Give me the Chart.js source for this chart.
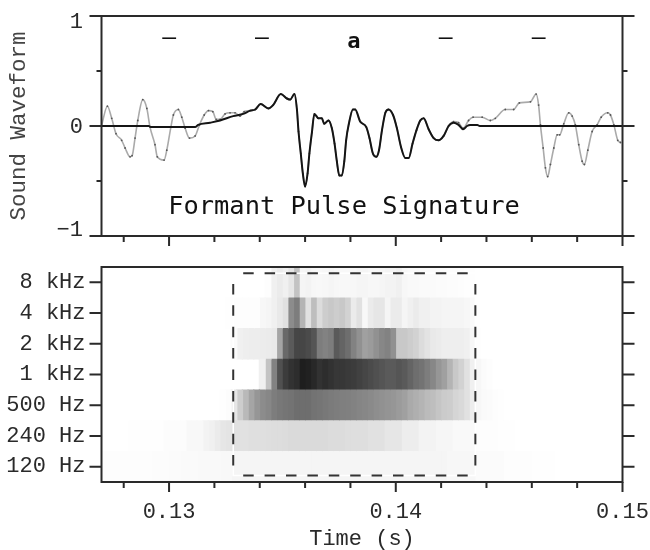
<!DOCTYPE html>
<html><head><meta charset="utf-8">
<script src="https://cdn.jsdelivr.net/npm/chart.js@4"></script>
<style>
html,body{margin:0;padding:0;background:#fff;width:650px;height:550px;overflow:hidden}
canvas{position:absolute;left:0}
#a{top:0}#b{top:250px}
</style></head><body>
<canvas id="a" width="650" height="250"></canvas>
<canvas id="b" width="650" height="300"></canvas>
<script>
const waveTimes=[127.02,127.28,127.47,127.66,127.91,128.06,128.28,128.37,128.50,128.62,128.84,129.02,129.16,129.38,129.48,129.78,129.90,130.08,130.19,130.41,130.56,130.71,130.90,131.15,131.34,131.55,131.74,131.93,132.08,132.25,132.47,132.69,132.91,133.13,133.31,133.58,133.80,134.04,134.38,134.59,134.93,135.20,135.34,135.53,135.64,135.71,135.81,135.90,136.00,136.11,136.19,136.30,136.41,136.59,136.74,136.84,137.03,137.18,137.30,137.40,137.51,137.62,137.73,137.81,137.93,138.11,138.21,138.43,138.70,138.84,138.99,139.14,139.26,139.39,139.54,139.68,139.88,140.05,140.23,140.42,140.57,140.74,140.91,141.08,141.23,141.45,141.67,141.89,142.11,142.33,142.55,142.77,142.97,143.21,143.41,143.81,144.17,144.39,144.83,145.20,145.45,145.94,146.19,146.30,146.38,146.50,146.60,146.70,146.82,146.97,147.12,147.23,147.41,147.63,147.78,147.92,148.07,148.22,148.32,148.47,148.66,148.88,149.06,149.35,149.47,149.62,149.79,149.91];
const waveValues=[0,0.18,0.07,-0.07,-0.13,-0.20,-0.28,-0.27,-0.11,0.05,0.24,0.16,-0.01,-0.17,-0.28,-0.31,-0.22,-0.01,0.10,0.15,0.08,-0.02,-0.11,-0.09,0.01,0.10,0.14,0.13,0.06,0.06,0.11,0.12,0.12,0.09,0.13,0.14,0.15,0.20,0.16,0.19,0.29,0.25,0.24,0.29,0.15,-0.05,-0.25,-0.43,-0.55,-0.43,-0.25,-0.06,0.11,0.07,0.07,0.02,0.05,-0.02,-0.16,-0.32,-0.45,-0.45,-0.32,-0.13,0.02,0.15,0.15,0.04,-0.01,-0.11,-0.25,-0.28,-0.22,-0.04,0.12,0.15,0.10,-0.02,-0.19,-0.29,-0.29,-0.16,-0.04,0.05,0.07,-0.03,-0.11,-0.13,-0.09,0,0.04,0.03,-0.02,0.05,0.08,0.08,0.05,0.07,0.15,0.15,0.21,0.22,0.29,0.19,0.01,-0.20,-0.38,-0.46,-0.35,-0.20,-0.08,-0.08,0.02,0.12,0.09,0.01,-0.17,-0.32,-0.35,-0.22,-0.05,0.01,0.08,0.12,0.10,0.01,-0.13,-0.15];
const pulseLeadTimes=[127.02,129.10,129.20,131.15,131.28,131.81,132.25,132.83,133.27];
const pulseLeadValues=[0,0,-0.01,-0.01,0.01,0.03,0.05,0.09,0.11];
const pulseTailTimes=[142.55,142.77,142.97,143.14,143.28,143.60,143.70,150];
const pulseTailValues=[0.03,0.01,-0.03,0,0.01,0.01,0,0];
const sharedFrom=35, sharedTo=90;

const rowLabels=['8 kHz','4 kHz','2 kHz','1 kHz','500 Hz','240 Hz','120 Hz'];
const binStart=127.0, binWidth=0.25;
const dark8k=[0,0,0,0,0,0,0,0,0,0,0,0,0,0,0,0,0,0,0,0,0,0,0,0,0,0,0,0,0,2,15,20,15,25,60,10,12,8,7,8,10,8,7,7,8,10,10,8,8,10,12,12,15,8,6,6,5,5,5,4,4,3,3,2,1,1,0,0,0,0,0,0,0,0,0,0,0,0,0,0,0,0,0,0,0,0,0,0,0,0,0,0];
const dark4k=[0,0,0,0,0,0,0,0,0,0,0,0,0,0,0,0,0,0,0,0,0,0,1,2,2,2,2,2,8,10,15,22,30,115,130,75,30,65,35,50,55,50,55,45,20,30,7,20,25,25,10,20,20,10,15,20,15,15,12,12,10,10,10,10,8,5,0,0,0,0,0,0,0,0,0,0,0,0,0,0,0,0,0,0,0,0,0,0,0,0,0,0];
const dark2k=[0,0,0,0,0,0,0,0,0,0,0,0,0,0,0,0,0,0,0,0,0,0,0,5,15,17,18,18,19,20,22,90,150,165,185,185,180,170,130,125,130,165,155,145,125,110,95,100,110,120,125,110,55,55,50,45,35,28,22,20,17,17,17,17,15,8,1,0,0,0,0,0,0,0,0,0,0,0,0,0,0,0,0,0,0,0,0,0,0,0,0,0];
const dark1k=[0,0,0,0,0,0,0,0,0,0,0,0,0,0,0,0,0,0,0,0,0,0,0,0,0,0,0,0,15,60,125,175,195,205,210,225,222,215,205,210,205,200,200,197,195,190,185,180,175,170,165,165,170,165,155,145,140,130,120,105,95,75,55,45,30,15,8,4,2,0,0,0,0,0,0,0,0,0,0,0,0,0,0,0,0,0,0,0,0,0,0,0];
const dark500=[0,0,0,0,0,0,0,0,0,0,0,0,0,0,0,0,0,0,0,0,0,1,3,25,50,70,90,105,115,120,130,135,138,140,145,145,145,140,138,135,132,130,128,127,125,122,120,117,113,110,107,105,100,95,85,80,75,68,65,58,52,50,42,38,30,18,8,5,4,2,1,0,0,0,0,0,0,0,0,0,0,0,0,0,0,0,0,0,0,0,0,0];
const dark240=[0,0,0,0,0,1,1,1,1,1,1,3,3,3,3,7,7,7,12,15,20,25,27,30,30,30,32,32,32,33,34,34,35,37,37,37,37,37,37,37,35,35,35,33,33,33,33,30,30,30,25,25,25,18,18,18,12,12,12,9,9,9,6,6,6,6,2,2,2,2,1,1,1,0,0,0,0,0,0,0,0,0,0,0,0,0,0,0,0,0,0,0];
const dark120=[2,2,2,2,2,2,2,2,2,3,3,3,4,4,5,5,5,6,6,6,6,7,7,10,10,10,10,10,10,10,10,10,10,10,10,10,10,10,10,10,10,10,10,10,10,10,10,10,10,10,10,10,10,10,10,10,10,10,10,10,10,8,8,8,8,8,4,4,4,4,4,2,2,2,2,2,1,1,1,1,0,0,0,0,0,0,0,0,0,0,0,0];
const rowsDark=[dark8k,dark4k,dark2k,dark1k,dark500,dark240,dark120];

const boxLeft=132.83, boxRight=143.51, boxTop=6.30, boxBottom=-0.286;
const dashStartX=133.27, dashEndX=143.22, dashTopY=5.95, dashBottomY=0.04;

const xMin=127.02, xMax=150;
const majorTimes=[130,140,150];
const minorTimes=[128,132,134,136,138,142,144,146,148];
const waveMajor=[1,0,-1];
const waveMinor=[0.5,-0.5];
const waveTickLabels=['1','0','\u22121'];
const segmentMarks=[130,134.1,138.15,142.2,146.3];
const segmentTexts=['\u2013','\u2013','a','\u2013','\u2013'];
const caption='Formant Pulse Signature';

const MONO='"Liberation Mono",monospace';
const DJ='"DejaVu Sans Mono",monospace';
const INK='#2a2a2a';

function pts(ts,vs){return ts.map((t,i)=>({x:t,y:vs[i]}));}

function framePlugin(){return {id:'frame',afterDatasetsDraw(c){
  const g=c.ctx,a=c.chartArea,xs=c.scales.x;
  g.save();g.strokeStyle=INK;g.lineWidth=2;
  g.strokeRect(a.left,a.top,a.right-a.left,a.bottom-a.top);
  g.lineWidth=2;g.beginPath();
  for(const t of majorTimes){const p=xs.getPixelForValue(t);g.moveTo(p,a.bottom);g.lineTo(p,a.bottom+10);}
  for(const t of minorTimes){const p=xs.getPixelForValue(t);g.moveTo(p,a.bottom);g.lineTo(p,a.bottom+6);}
  g.stroke();g.restore();
}};}

const topPlugin={id:'topMarks',afterDatasetsDraw(c){
  const g=c.ctx,a=c.chartArea,xs=c.scales.x,ys=c.scales.y;
  g.save();g.strokeStyle=INK;g.lineWidth=2;g.beginPath();
  for(const v of waveMajor){const p=ys.getPixelForValue(v);g.moveTo(a.left-12,p);g.lineTo(a.left,p);g.moveTo(a.right,p);g.lineTo(a.right+12,p);}
  for(const v of waveMinor){const p=ys.getPixelForValue(v);g.moveTo(a.left-5,p);g.lineTo(a.left,p);g.moveTo(a.right,p);g.lineTo(a.right+5,p);}
  g.stroke();
  g.fillStyle=INK;g.font='22px '+MONO;g.textAlign='right';g.textBaseline='middle';
  waveMajor.forEach((v,i)=>{const p=ys.getPixelForValue(v);
    const nudge=v===1?5:(v===-1?-7:0);
    g.fillText(waveTickLabels[i],83,p+nudge+1);});
  g.fillStyle='#111';g.textAlign='center';
  segmentMarks.forEach((t,i)=>{
    g.font=(i===2?'bold 22px ':'23px ')+DJ;
    g.fillText(segmentTexts[i],xs.getPixelForValue(t),i===2?42:39);});
  g.font='25.4px '+DJ;
  g.fillText(caption,344,207);
  g.restore();
}};

const bottomPlugin={id:'bottomMarks',afterDatasetsDraw(c){
  const g=c.ctx,a=c.chartArea,ys=c.scales.y;
  g.save();g.strokeStyle=INK;g.lineWidth=2;g.beginPath();
  rowLabels.forEach((l,i)=>{const p=ys.getPixelForValue(i);g.moveTo(a.left-12,p);g.lineTo(a.left,p);g.moveTo(a.right,p);g.lineTo(a.right+12,p);});
  g.stroke();g.restore();
}};

function noPad(s){s.paddingTop=0;s.paddingBottom=0;s.paddingLeft=0;s.paddingRight=0;}

new Chart(document.getElementById('a'),{
  type:'scatter',
  data:{datasets:[
    {label:'Pulse',data:pts(pulseLeadTimes,pulseLeadValues).concat(pts(waveTimes.slice(sharedFrom,sharedTo),waveValues.slice(sharedFrom,sharedTo)),pts(pulseTailTimes,pulseTailValues)),showLine:true,borderColor:'#151515',borderWidth:2,pointRadius:0,cubicInterpolationMode:'monotone',order:0},
    {label:'Waveform',data:pts(waveTimes,waveValues),showLine:true,borderColor:'#aaaaaa',borderWidth:1.6,pointRadius:0.9,pointBackgroundColor:'#555',pointBorderWidth:0,cubicInterpolationMode:'monotone',order:1}
  ]},
  plugins:[framePlugin(),topPlugin],
  options:{responsive:false,animation:false,events:[],
    layout:{padding:{left:0,right:27.5,top:16,bottom:0}},
    plugins:{legend:{display:false},tooltip:{enabled:false}},
    scales:{
      x:{type:'linear',min:xMin,max:xMax,offset:false,grid:{display:false,drawTicks:false},border:{display:false},ticks:{display:false},
         afterBuildTicks(s){s.ticks=majorTimes.map(v=>({value:v}));},afterFit(s){s.height=14;noPad(s);}},
      y:{type:'linear',min:-1,max:1,grid:{display:false,drawTicks:false},border:{display:false},ticks:{display:false},
         title:{display:true,text:'Sound Waveform',color:'#444',font:{family:MONO,size:22.5},padding:{top:6,bottom:0}},
         afterFit(s){s.width=101.5;noPad(s);}}
    }}
});

const bars=[];
for(let i=0;i<dark8k.length;i++){
  const t0=binStart+i*binWidth;
  bars.push({
    type:'bar',indexAxis:'y',xAxisID:'x',yAxisID:'y',order:2,
    barPercentage:1,categoryPercentage:1,grouped:false,borderWidth:0,
    data:rowsDark.map(r=>r[i]>0?[t0-0.03,t0+binWidth]:null),
    backgroundColor:rowsDark.map(r=>{const g=255-r[i];return 'rgb('+g+','+g+','+g+')';})
  });
}
const lineBase={type:'scatter',showLine:true,xAxisID:'x',yAxisID:'yBox',pointRadius:0,tension:0};
const dashed=Object.assign({},lineBase,{borderColor:'#333',borderWidth:2,borderDash:[10.5,10.9],order:0});
const whiteBox={x:[boxLeft,boxRight,boxRight,boxLeft,boxLeft],y:[boxTop,boxTop,boxBottom,boxBottom,boxTop]};

new Chart(document.getElementById('b'),{
  type:'bar',
  data:{labels:rowLabels,datasets:[
    Object.assign({},dashed,{data:[{x:dashStartX,y:boxTop},{x:dashEndX,y:boxTop}]}),
    Object.assign({},dashed,{data:[{x:dashStartX,y:boxBottom},{x:dashEndX,y:boxBottom}]}),
    Object.assign({},dashed,{data:[{x:boxLeft,y:dashTopY},{x:boxLeft,y:dashBottomY}]}),
    Object.assign({},dashed,{data:[{x:boxRight,y:dashTopY},{x:boxRight,y:dashBottomY}]}),
    Object.assign({},lineBase,{data:pts(whiteBox.x,whiteBox.y),borderColor:'#ffffff',borderWidth:1.5,order:1}),
    ...bars
  ]},
  plugins:[framePlugin(),bottomPlugin],
  options:{responsive:false,animation:false,events:[],
    layout:{padding:{left:0,right:27.5,top:17,bottom:0}},
    plugins:{legend:{display:false},tooltip:{enabled:false}},
    scales:{
      x:{type:'linear',min:xMin,max:xMax,offset:false,grid:{display:false,drawTicks:false,offset:false},border:{display:false},
         ticks:{color:INK,font:{family:MONO,size:22},padding:17,maxRotation:0,autoSkip:false,callback:v=>(v/1000).toFixed(2)},
         title:{display:true,text:'Time (s)',color:INK,font:{family:MONO,size:22,lineHeight:1},padding:{top:0,bottom:0}},
         afterBuildTicks(s){s.ticks=majorTimes.map(v=>({value:v}));},afterFit(s){s.height=68;noPad(s);}},
      y:{type:'category',offset:true,labels:rowLabels,grid:{display:false,drawTicks:false},border:{display:false},
         ticks:{color:INK,font:{family:MONO,size:22},padding:16,autoSkip:false},
         afterFit(s){s.width=101.5;noPad(s);}},
      yBox:{type:'linear',display:false,min:-0.5,max:6.5}
    }}
});
</script>
</body></html>
